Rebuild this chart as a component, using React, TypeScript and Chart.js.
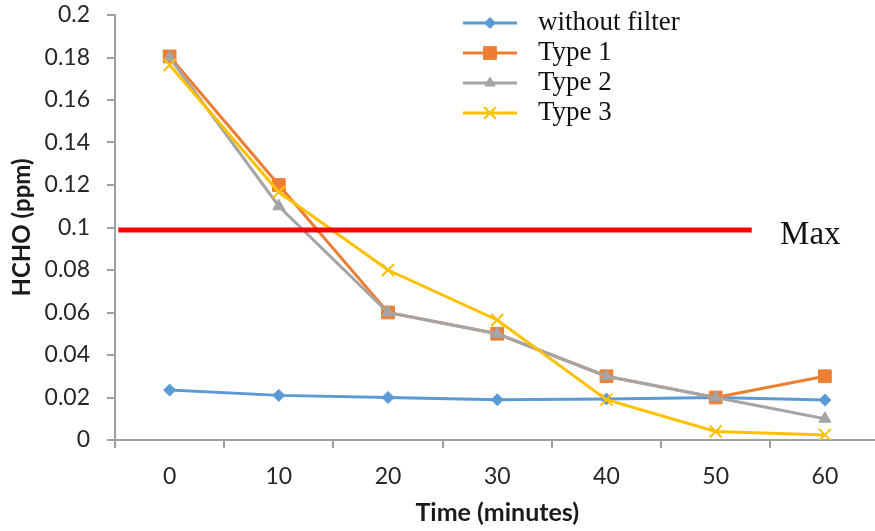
import React, { useEffect, useRef } from 'react';
import { Chart, registerables } from 'chart.js';
import { drawPoint } from 'chart.js/helpers';

Chart.register(...registerables);

// ---- data ----
const categories = ['0', '10', '20', '30', '40', '50', '60'];
const seriesNames = ['without filter', 'Type 1', 'Type 2', 'Type 3'];
const withoutFilter = [0.0235, 0.021, 0.020, 0.019, 0.0193, 0.020, 0.0188];
const type1 = [0.1805, 0.120, 0.060, 0.050, 0.030, 0.020, 0.030];
const type2 = [0.180, 0.110, 0.060, 0.050, 0.030, 0.020, 0.010];
const type3 = [0.1765, 0.1167, 0.080, 0.0565, 0.019, 0.004, 0.0024];
const maxLimit = 0.0988;
const maxLineMinutes = [-4.7, 53.3];
const maxLabelText = 'Max';
const maxLabelAt = { minute: 55.9, value: 0.0962 };
const yMin = 0;
const yMax = 0.2;
const yStep = 0.02;
const xTitle = 'Time (minutes)';
const yTitle = 'HCHO (ppm)';

// ---- styles ----
const colors = ['#5B9BD5', '#ED7D31', '#A5A5A5', '#FFC000'];
const pointStyles = ['rectRot', 'rect', 'triangle', 'crossRot'];
const pointRadii = [6, 9, 7, 8.5];
const legendPointRadii = [5.5, 9, 6, 8.5];
const axisColor = '#A0A0A0';
const tickFont = { family: 'Lato, "Open Sans", sans-serif', size: 23 };
const xTitleFont = { family: 'Lato, "Open Sans", sans-serif', size: 25, weight: 'bold' as const };
const yTitleFont = { family: 'Lato, "Open Sans", sans-serif', size: 24, weight: 'bold' as const };
const serifFamily = '"Liberation Serif", "Times New Roman", serif';

const legendPlugin = {
  id: 'excelLegend',
  afterDraw(chart: any) {
    const ctx = chart.ctx as CanvasRenderingContext2D;
    ctx.save();
    const lineX0 = 463;
    const lineX1 = 517;
    const textX = 538;
    const top = 23;
    const row = 30;
    seriesNames.forEach((name, i) => {
      const y = top + i * row;
      ctx.strokeStyle = colors[i];
      ctx.lineWidth = 3;
      ctx.beginPath();
      ctx.moveTo(lineX0, y);
      ctx.lineTo(lineX1, y);
      ctx.stroke();
      ctx.fillStyle = colors[i];
      ctx.strokeStyle = colors[i];
      ctx.lineWidth = pointStyles[i] === 'crossRot' ? 2 : 1;
      drawPoint(ctx, { pointStyle: pointStyles[i] as any, rotation: 0, radius: legendPointRadii[i], borderWidth: ctx.lineWidth }, (lineX0 + lineX1) / 2, y);
      ctx.fillStyle = '#111';
      ctx.font = `27px ${serifFamily}`;
      ctx.textAlign = 'left';
      ctx.textBaseline = 'middle';
      ctx.fillText(name, textX, y);
    });
    const mx = chart.scales.xl.getPixelForValue(maxLabelAt.minute);
    const my = chart.scales.y.getPixelForValue(maxLabelAt.value);
    ctx.fillStyle = '#111';
    ctx.font = `33px ${serifFamily}`;
    ctx.textAlign = 'left';
    ctx.textBaseline = 'middle';
    ctx.fillText(maxLabelText, mx, my);
    ctx.restore();
  },
};

function fmt(v: number) {
  return String(Number(Number(v).toFixed(2)));
}

export default function App() {
  const ref = useRef<HTMLCanvasElement | null>(null);
  useEffect(() => {
    let chart: Chart | null = null;
    let cancelled = false;
    const fontsReady = (document as any).fonts
      ? Promise.all([
          (document as any).fonts.load('23px Lato'),
          (document as any).fonts.load('bold 24px Lato'),
          (document as any).fonts.load('27px "Liberation Serif"'),
        ]).catch(() => null)
      : Promise.resolve(null);
    fontsReady.then(() => {
      if (cancelled || !ref.current) return;
      const seriesValues = [withoutFilter, type1, type2, type3];
      const orders = [4, 3, 2, 1];
      const datasets: any[] = seriesValues.map((vals, i) => ({
        type: 'line',
        label: seriesNames[i],
        data: vals,
        xAxisID: 'x',
        yAxisID: 'y',
        borderColor: colors[i],
        backgroundColor: colors[i],
        borderWidth: 3,
        pointStyle: pointStyles[i],
        pointRadius: pointRadii[i],
        pointBackgroundColor: colors[i],
        pointBorderColor: colors[i],
        pointBorderWidth: pointStyles[i] === 'crossRot' ? 2 : 1,
        tension: 0,
        order: orders[i],
      }));
      datasets.push({
        type: 'line',
        label: 'Max',
        data: maxLineMinutes.map((m) => ({ x: m, y: maxLimit })),
        xAxisID: 'xl',
        yAxisID: 'y',
        borderColor: '#FF0000',
        borderWidth: 5,
        pointRadius: 0,
        order: 0,
      });
      chart = new Chart(ref.current, {
        type: 'line',
        data: { labels: categories, datasets },
        plugins: [legendPlugin],
        options: {
          animation: false,
          responsive: false,
          devicePixelRatio: 1,
          layout: { padding: { top: 0, left: 0, right: 7, bottom: 0 } },
          plugins: {
            legend: { display: false },
            tooltip: { enabled: false },
          },
          scales: {
            x: {
              type: 'category',
              offset: true,
              grid: {
                display: true,
                drawOnChartArea: false,
                drawTicks: true,
                tickLength: 8,
                color: axisColor,
                lineWidth: 2,
                offset: true,
              },
              border: { display: true, color: axisColor, width: 2 },
              ticks: { font: tickFont, color: '#262626', padding: 15, maxRotation: 0, autoSkip: false },
              title: { display: true, text: xTitle, font: xTitleFont, color: '#1a1a1a', padding: { top: 0, bottom: 3 } },
              afterFit: (s: any) => {
                s.height = 91;
              },
            },
            xl: {
              type: 'linear',
              display: false,
              min: -5,
              max: 65,
            },
            y: {
              type: 'linear',
              min: yMin,
              max: yMax,
              grid: {
                display: true,
                drawOnChartArea: false,
                drawTicks: true,
                tickLength: 8,
                color: axisColor,
                lineWidth: 2,
              },
              border: { display: true, color: axisColor, width: 2 },
              ticks: { stepSize: yStep, font: tickFont, color: '#262626', padding: 17, callback: (v: any) => fmt(v) },
              title: { display: true, text: yTitle, font: yTitleFont, color: '#1a1a1a', padding: { top: 8, bottom: 0 } },
              afterFit: (s: any) => {
                s.width = 115;
                s.paddingTop = 15;
                s.paddingBottom = 0;
              },
            },
          },
        } as any,
      });
    });
    return () => {
      cancelled = true;
      if (chart) chart.destroy();
    };
  }, []);
  return (
    <div style={{ position: 'fixed', left: 0, top: 0, width: 875, height: 531, overflow: 'hidden', background: '#fff' }}>
      <canvas ref={ref} width={890} height={531} style={{ display: 'block', width: 890, height: 531 }} />
    </div>
  );
}
